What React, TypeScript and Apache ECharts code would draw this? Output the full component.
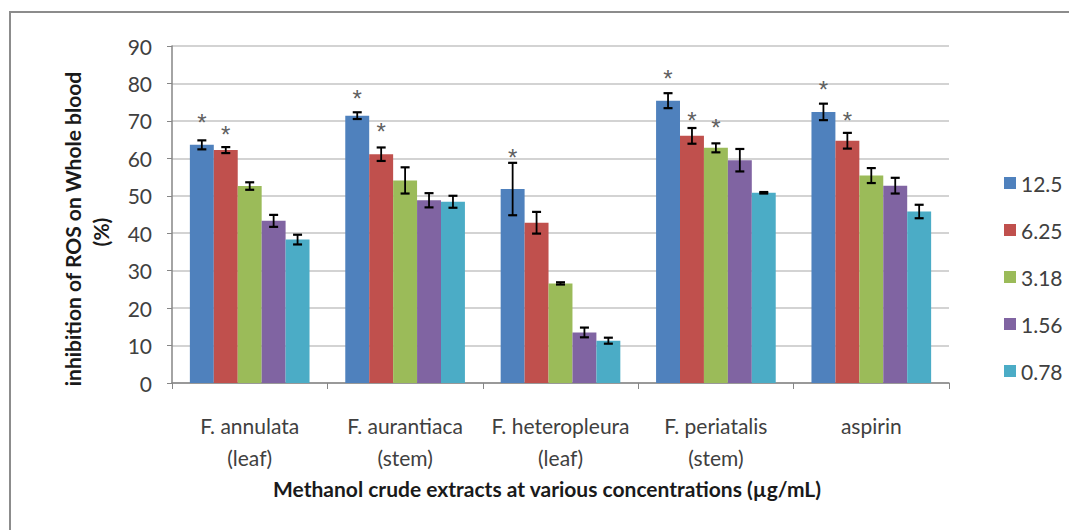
import React, { useEffect, useRef } from "react";
import * as echarts from "echarts";

const categories = [
  "F. annulata\n(leaf)",
  "F. aurantiaca\n(stem)",
  "F. heteropleura\n(leaf)",
  "F. periatalis\n(stem)",
  "aspirin",
];
const seriesNames = ["12.5", "6.25", "3.18", "1.56", "0.78"];
const colors = ["#4F81BD", "#C0504D", "#9BBB59", "#8064A2", "#4BACC6"];

const v125 = [63.6, 71.4, 51.8, 75.4, 72.4];
const v625 = [62.2, 61.1, 42.8, 66.0, 64.7];
const v318 = [52.6, 54.1, 26.6, 62.8, 55.4];
const v156 = [43.3, 48.8, 13.5, 59.5, 52.7];
const v078 = [38.3, 48.4, 11.3, 50.8, 45.8];

const e125 = [1.2, 0.9, 7.0, 2.0, 2.2];
const e625 = [0.8, 1.8, 2.9, 2.1, 2.1];
const e318 = [1.0, 3.5, 0.3, 1.2, 2.0];
const e156 = [1.6, 1.9, 1.3, 3.0, 2.1];
const e078 = [1.3, 1.6, 0.8, 0.2, 1.8];

// Position (in axis units) of the significance asterisks; null = none
const s125 = [70.9, 77.4, 61.6, 82.7, 79.8];
const s625 = [67.6, 68.4, null, 71.4, 71.4];
const s318 = [null, null, null, 69.5, null];
const s156 = [null, null, null, null, null];
const s078 = [null, null, null, null, null];

const yTicks = { min: 0, max: 90, interval: 10 };

const values = [v125, v625, v318, v156, v078];
const errors = [e125, e625, e318, e156, e078];
const stars = [s125, s625, s318, s156, s078];

const GAP = 0.23;
const FONT = "Lato";

function barX(api: any, cat: number, si: number, v: number) {
  const band = api.size([1, 0])[0];
  const used = band * (1 - GAP);
  const bw = used / seriesNames.length;
  const c = api.coord([cat, v]);
  return c[0] - used / 2 + (si + 0.5) * bw;
}

export default function App() {
  const ref = useRef<HTMLDivElement>(null);
  useEffect(() => {
    if (!ref.current) return;
    const chart = echarts.init(ref.current, null, { renderer: "svg" });

    const errData: number[][] = [];
    const starData: number[][] = [];
    values.forEach((arr, si) =>
      arr.forEach((v, ci) => {
        errData.push([ci, v, si, errors[si][ci]]);
        const s = stars[si][ci];
        if (s !== null && s !== undefined) starData.push([ci, s, si]);
      })
    );

    const barSeries = seriesNames.map((name, si) => ({
      name,
      type: "bar",
      data: values[si],
      barGap: "0%",
      barCategoryGap: GAP * 100 + "%",
      itemStyle: { color: colors[si] },
    }));

    chart.setOption({
      animation: false,
      backgroundColor: "#ffffff",
      grid: { left: 172, right: 120, top: 46, bottom: 147 },
      legend: {
        data: seriesNames,
        orient: "vertical",
        left: 999,
        top: 166,
        itemWidth: 12,
        itemHeight: 12,
        itemGap: 23,
        icon: "rect",
        textStyle: {
          fontFamily: FONT,
          fontSize: 21,
          color: "#404040",
          lineHeight: 24,
        },
      },
      xAxis: {
        type: "category",
        data: categories,
        axisLine: { lineStyle: { color: "#868686", width: 1.5 } },
        axisTick: { show: true, length: 6, lineStyle: { color: "#868686" } },
        axisLabel: {
          interval: 0,
          margin: 26,
          fontFamily: FONT,
          fontSize: 21,
          lineHeight: 32,
          color: "#404040",
        },
      },
      yAxis: {
        type: "value",
        min: yTicks.min,
        max: yTicks.max,
        interval: yTicks.interval,
        axisLine: { show: true, lineStyle: { color: "#868686", width: 1.5 } },
        axisTick: { show: true, length: 5, lineStyle: { color: "#868686" } },
        axisLabel: {
          margin: 20,
          fontFamily: FONT,
          fontSize: 21,
          color: "#404040",
        },
        splitLine: { lineStyle: { color: "#c4c4c4", width: 1.5 } },
      },
      graphic: [
        {
          type: "rect",
          shape: { x: 10, y: 12, width: 1200, height: 700 },
          style: { fill: "none", stroke: "#8c8c8c", lineWidth: 2 },
          silent: true,
        },
        {
          type: "text",
          x: 72,
          y: 229,
          rotation: Math.PI / 2,
          style: {
            text: "inhibition of ROS on Whole blood",
            align: "center",
            verticalAlign: "middle",
            fontFamily: FONT,
            fontWeight: "bold",
            fontSize: 21,
            fill: "#1a1a1a",
          },
        },
        {
          type: "text",
          x: 100,
          y: 232,
          rotation: Math.PI / 2,
          style: {
            text: "(%)",
            align: "center",
            verticalAlign: "middle",
            fontFamily: FONT,
            fontWeight: "bold",
            fontSize: 21,
            fill: "#1a1a1a",
          },
        },
        {
          type: "text",
          x: 547,
          y: 488,
          style: {
            text: "Methanol crude extracts at various concentrations (µg/mL)",
            align: "center",
            verticalAlign: "middle",
            fontFamily: FONT,
            fontWeight: "bold",
            fontSize: 21,
            fill: "#1a1a1a",
          },
        },
      ],
      series: [
        ...barSeries,
        {
          type: "custom",
          name: "errors",
          data: errData,
          encode: { x: 0, y: 1 },
          z: 5,
          silent: true,
          renderItem: (params: any, api: any) => {
            const cat = api.value(0);
            const v = api.value(1);
            const si = api.value(2);
            const e = api.value(3);
            const x = barX(api, cat, si, v);
            const top = api.coord([cat, v + e])[1];
            const bot = api.coord([cat, v - e])[1];
            const cap = 4.5;
            const st = { stroke: "#000000", lineWidth: 1.8 };
            return {
              type: "group",
              children: [
                { type: "line", shape: { x1: x, y1: top, x2: x, y2: bot }, style: st },
                { type: "line", shape: { x1: x - cap, y1: top, x2: x + cap, y2: top }, style: { stroke: "#000", lineWidth: 2.2 } },
                { type: "line", shape: { x1: x - cap, y1: bot, x2: x + cap, y2: bot }, style: { stroke: "#000", lineWidth: 2.2 } },
              ],
            };
          },
        },
        {
          type: "custom",
          name: "stars",
          data: starData,
          encode: { x: 0, y: 1 },
          z: 5,
          silent: true,
          renderItem: (params: any, api: any) => {
            const cat = api.value(0);
            const s = api.value(1);
            const si = api.value(2);
            const x = barX(api, cat, si, s);
            const y = api.coord([cat, s])[1];
            return {
              type: "text",
              x,
              y: y + 5,
              style: {
                text: "*",
                align: "center",
                verticalAlign: "middle",
                fontFamily: "Liberation Sans",
                fontSize: 24,
                fill: "#606060",
              },
            };
          },
        },
      ],
    });
    return () => chart.dispose();
  }, []);

  return (
    <div
      ref={ref}
      style={{ position: "fixed", left: 0, top: 0, width: 1069, height: 530, background: "#fff" }}
    />
  );
}
